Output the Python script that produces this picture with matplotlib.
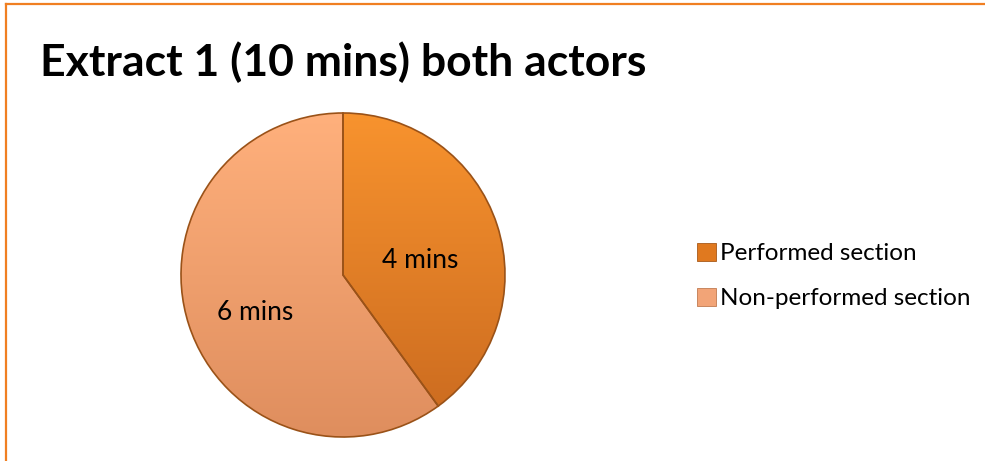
import matplotlib
matplotlib.use("Agg")
import matplotlib.pyplot as plt
import numpy as np
from matplotlib.colors import LinearSegmentedColormap
from matplotlib.patches import Patch
from matplotlib.lines import Line2D

title = "Extract 1 (10 mins) both actors"
categories = ["Performed section", "Non-performed section"]
values = [4, 6]
labels = ["4 mins", "6 mins"]

top_cols = ["#F8932E", "#FFB07C"]
bot_cols = ["#C9691F", "#DF8E5E"]
edge_col = "#9A5218"

plt.rcParams['font.family'] = ['Lato', 'DejaVu Sans']

W, H = 985, 461
fig = plt.figure(figsize=(W / 100, H / 100), dpi=100)
fig.patch.set_facecolor("white")

# border (left and top visible)
fig.add_artist(Line2D([5.5 / W, 5.5 / W], [0, 1 - 4.5 / H], transform=fig.transFigure,
                      color="#F07F22", lw=1.6))
fig.add_artist(Line2D([5.5 / W, 1], [1 - 4.5 / H, 1 - 4.5 / H], transform=fig.transFigure,
                      color="#F07F22", lw=1.6))

fig.text(40 / W, 1 - 62 / H, title, fontsize=32, fontweight="bold", va="center", ha="left",
         color="black")

cx, cy, r = 343, 275, 162
ax = fig.add_axes([(cx - r) / W, (H - cy - r) / H, 2 * r / W, 2 * r / H])

wedges, _ = ax.pie(values, startangle=90, counterclock=False, radius=1,
                   colors=bot_cols, wedgeprops=dict(edgecolor="none"))
ax.set_xlim(-1, 1)
ax.set_ylim(-1, 1)
ax.set_aspect("equal")
ax.axis("off")
grad = np.linspace(1, 0, 256).reshape(-1, 1)
for w, tc, bc in zip(wedges, top_cols, bot_cols):
    cmap = LinearSegmentedColormap.from_list("g", [bc, tc])
    im = ax.imshow(grad, extent=[-1, 1, -1, 1], cmap=cmap, origin="upper",
                   aspect="auto", zorder=2, interpolation="bilinear")
    im.set_clip_path(w)
for w in wedges:
    w.set_zorder(3)
    w.set_facecolor("none")
    w.set_edgecolor(edge_col)
    w.set_linewidth(1.2)
    w.set_clip_on(False)

label_pos = [(0.475, 0.09), (-0.54, -0.23)]
for lab, (x, y) in zip(labels, label_pos):
    ax.text(x, y, lab, fontsize=19, ha="center", va="center", zorder=5)

handles = [Patch(facecolor=c, edgecolor=e, linewidth=0.6) for c, e in zip(["#E0791F", "#F2A477"], ["#A85A1A", "#C07A50"])]
leg = fig.legend(handles, categories, loc="center left", bbox_to_anchor=(697 / W, 1 - 276 / H),
                 frameon=False, fontsize=17.5, handlelength=0.8, handleheight=0.8,
                 handletextpad=0.15, labelspacing=0.95, borderpad=0, borderaxespad=0)

fig.savefig("out.png", dpi=100, facecolor="white")
